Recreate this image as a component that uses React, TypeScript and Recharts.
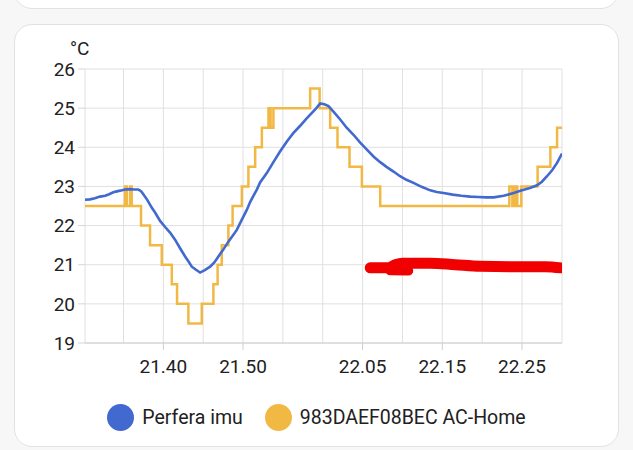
import React from 'react';
import { LineChart, Line, XAxis, YAxis, CartesianGrid } from 'recharts';

// minutes after 21:00
const seriesNames = ['Perfera imu', '983DAEF08BEC AC-Home'];
const seriesColors = ['#4269d0', '#f1b944'];

const xDomain = [30.17, 90.02];
const xTicks = [30.17, 35, 40, 45, 50, 55, 60, 65, 70, 75, 80, 85, 90.02];
const xTickLabels: Record<string, string> = { '40': '21.40', '50': '21.50', '65': '22.05', '75': '22.15', '85': '22.25' };
const yTicks = [19, 20, 21, 22, 23, 24, 25, 26];

const perferaTimes = [
  30.17, 30.8, 31.4, 32.05, 32.7, 33.2, 33.72, 34.3, 34.8, 35.19, 35.8, 36.3, 36.86, 37.2, 37.49, 38.0, 38.54, 39.0,
  39.59, 40.2, 40.84, 41.47, 42.1, 42.73, 43.2, 43.57, 44.1, 44.61, 45.2, 45.87, 46.4, 46.91, 47.5, 48.16, 48.7,
  49.22, 49.85, 50.47, 50.89, 51.3, 51.73, 52.14, 52.98, 53.81, 54.6, 55.5, 56.3, 57.17, 57.9, 58.64, 59.2, 59.68,
  60.2, 60.72, 61.4, 62.19, 63.0, 63.86, 64.7, 65.54, 66.4, 67.21, 68.0, 68.88, 69.7, 70.5, 71.39, 72.4, 73.49,
  74.3, 75.16, 76.3, 77.4, 78.51, 79.5, 80.5, 81.44, 82.7, 83.95, 85.0, 86.0, 86.89, 87.5, 88.14, 88.8, 89.4, 90.02,
];
const perferaTemps = [
  22.66, 22.67, 22.7, 22.74, 22.76, 22.8, 22.85, 22.88, 22.9, 22.92, 22.93, 22.92, 22.92, 22.88, 22.8, 22.65, 22.46, 22.32,
  22.12, 21.97, 21.82, 21.64, 21.42, 21.21, 21.07, 20.95, 20.87, 20.8, 20.86, 20.95, 21.06, 21.21, 21.38, 21.59, 21.74,
  21.89, 22.15, 22.4, 22.6, 22.76, 22.92, 23.1, 23.34, 23.62, 23.88, 24.15, 24.36, 24.55, 24.72, 24.88, 25.0, 25.12,
  25.1, 25.05, 24.9, 24.71, 24.5, 24.32, 24.12, 23.94, 23.76, 23.62, 23.5, 23.38, 23.26, 23.17, 23.09, 22.99, 22.9,
  22.86, 22.83, 22.79, 22.76, 22.74, 22.73, 22.72, 22.72, 22.76, 22.83, 22.9, 22.96, 23.03, 23.12, 23.26, 23.42, 23.6, 23.84,
];

const acTimes = [
  30.17, 35.19, 35.41, 35.82, 36.03, 37.2, 38.33, 39.8, 41.06, 41.72, 43.14, 44.82, 46.28, 46.81, 47.33, 48.16, 48.69,
  49.85, 50.67, 51.52, 52.36, 53.19, 53.46, 53.81, 58.42, 59.61, 60.93, 61.85, 63.36, 64.91, 67.21, 83.41, 83.79,
  84.1, 84.41, 84.92, 86.96, 88.56, 89.4, 90.02,
];
const acTemps = [
  22.5, 23, 22.5, 23, 22.5, 22, 21.5, 21, 20.5, 20, 19.5, 20, 20.5, 21, 21.5, 22, 22.5,
  23, 23.5, 24, 24.5, 25, 24.5, 25, 25.5, 25, 24.5, 24, 23.5, 23, 22.5, 23, 22.5,
  23, 22.5, 23, 23.5, 24, 24.5, 24.5,
];

const redMarkTimes = [65.96, 68.22, 69.1, 69.98, 73.49, 76.63, 79.77, 84.79, 87.93, 89.9];
const redMarkValues = [20.92, 20.92, 21.0, 21.04, 21.04, 21.0, 20.96, 20.95, 20.95, 20.92];
const redHookTimes = [68.47, 70.73];
const redHookValues = [20.86, 20.85];

const zip = (ts: number[], vs: number[]) => ts.map((t, i) => ({ t, v: vs[i] }));
const perferaData = zip(perferaTimes, perferaTemps);
const acData = zip(acTimes, acTemps);
const redData = zip(redMarkTimes, redMarkValues);
const redHook = zip(redHookTimes, redHookValues);

const FONT = 'Roboto, "Noto Sans", sans-serif';
const TEXT = '#212121';

const XTick = (props: any) => {
  const { x, y, payload } = props;
  const label = xTickLabels[String(payload.value)];
  if (!label) return <g />;
  return (
    <g>
      <line x1={x} x2={x} y1={y - 7} y2={y} stroke="#cfcfcf" strokeWidth={1} />
      <text x={x} y={y + 23} textAnchor="middle" fill={TEXT} fontSize={19} fontFamily={FONT}>
        {label}
      </text>
    </g>
  );
};

const UnitLabel = (props: any) => {
  const vb = props.viewBox || {};
  return (
    <text x={vb.x + vb.width - 15} y={vb.y - 14} fill={TEXT} fontSize={19} fontFamily={FONT}>
      °C
    </text>
  );
};

export default function App() {
  return (
    <div style={{ position: 'absolute', left: 0, top: 0, width: 633, height: 450, background: '#f7f7f7', overflow: 'hidden' }}>
      <div style={{ position: 'absolute', left: 14, top: -40, width: 603, height: 47, background: '#fff', border: '1px solid #e2e2e2', borderRadius: 18 }} />
      <div style={{ position: 'absolute', left: 14, top: 24, width: 603, height: 421, background: '#fff', border: '1px solid #e2e2e2', borderRadius: 18 }} />
      <div style={{ position: 'absolute', left: 0, top: 0 }}>
        <LineChart width={633} height={450} margin={{ top: 69, right: 71, bottom: 67, left: 25 }}>
          <CartesianGrid stroke="#e0e0e0" strokeWidth={1} />
          <XAxis
            type="number"
            dataKey="t"
            domain={xDomain}
            ticks={xTicks}
            interval={0}
            allowDataOverflow
            height={40}
            tickSize={7}
            tickMargin={0}
            tickLine={false}
            axisLine={{ stroke: '#cfcfcf' }}
            tick={<XTick />}
          />
          <YAxis
            type="number"
            domain={[19, 26]}
            ticks={yTicks}
            interval={0}
            width={60}
            tickSize={7}
            tickMargin={3}
            axisLine={false}
            tickLine={{ stroke: '#d6d6d6' }}
            tick={{ fill: TEXT, fontSize: 19, fontFamily: FONT }}
            label={<UnitLabel />}
          />
          <Line
            data={acData}
            dataKey="v"
            type="stepAfter"
            stroke={seriesColors[1]}
            strokeWidth={2.5}
            dot={false}
            isAnimationActive={false}
            name={seriesNames[1]}
          />
          <Line
            data={perferaData}
            dataKey="v"
            type="linear"
            stroke={seriesColors[0]}
            strokeWidth={2.6}
            dot={false}
            isAnimationActive={false}
            name={seriesNames[0]}
          />
          <Line
            data={redData}
            dataKey="v"
            type="monotone"
            stroke="#f00000"
            strokeWidth={11}
            strokeLinecap="round"
            dot={false}
            isAnimationActive={false}
            legendType="none"
          />
          <Line
            data={redHook}
            dataKey="v"
            type="linear"
            stroke="#f00000"
            strokeWidth={10}
            strokeLinecap="round"
            dot={false}
            isAnimationActive={false}
            legendType="none"
          />
        </LineChart>
      </div>
      <div
        style={{
          position: 'absolute',
          left: 0,
          top: 403,
          width: 633,
          height: 28,
          display: 'flex',
          alignItems: 'center',
          justifyContent: 'center',
          fontFamily: FONT,
          fontSize: 19.5,
          color: TEXT,
        }}
      >
        {seriesNames.map((n, i) => (
          <div key={n} style={{ display: 'flex', alignItems: 'center', marginLeft: i === 0 ? 0 : 22 }}>
            <span style={{ width: 27, height: 27, borderRadius: '50%', background: seriesColors[i], display: 'inline-block', marginRight: 8 }} />
            <span>{n}</span>
          </div>
        ))}
      </div>
    </div>
  );
}
